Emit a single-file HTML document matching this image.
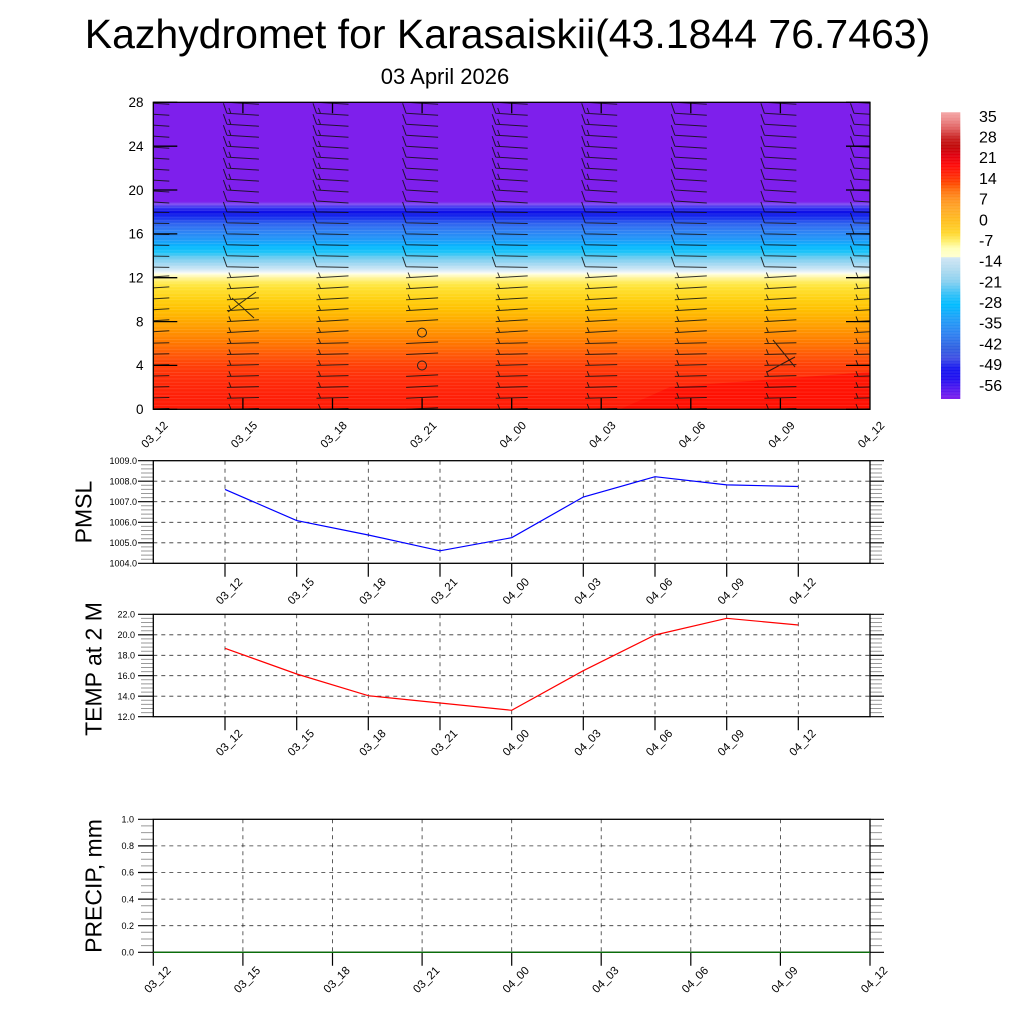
<!DOCTYPE html>
<html><head><meta charset="utf-8">
<style>
html,body{margin:0;padding:0;background:#fff;}
svg{display:block;font-family:"Liberation Sans",Arial,sans-serif;}
</style></head><body>
<svg xmlns="http://www.w3.org/2000/svg" width="1024" height="1024" viewBox="0 0 1024 1024">
<defs>
<linearGradient id="tg" x1="0" y1="102.3" x2="0" y2="409.3" gradientUnits="userSpaceOnUse">
<stop offset="0" stop-color="#7E1FEC"/>
<stop offset="0.323" stop-color="#7E1FEC"/>
<stop offset="0.332" stop-color="#7F4EF2"/>
<stop offset="0.343" stop-color="#3A3AF0"/>
<stop offset="0.357" stop-color="#0C0CE6"/>
<stop offset="0.375" stop-color="#1830EE"/>
<stop offset="0.393" stop-color="#2F60EE"/>
<stop offset="0.418" stop-color="#3080F4"/>
<stop offset="0.446" stop-color="#2298F8"/>
<stop offset="0.471" stop-color="#06B8FE"/>
<stop offset="0.489" stop-color="#20C4F8"/>
<stop offset="0.507" stop-color="#70CCF0"/>
<stop offset="0.529" stop-color="#A8DAF2"/>
<stop offset="0.546" stop-color="#D4EAF6"/>
<stop offset="0.555" stop-color="#F4F8F8"/>
<stop offset="0.559" stop-color="#FFFFE0"/>
<stop offset="0.571" stop-color="#FFF5A0"/>
<stop offset="0.589" stop-color="#FFEA50"/>
<stop offset="0.607" stop-color="#FFE030"/>
<stop offset="0.643" stop-color="#FFD010"/>
<stop offset="0.679" stop-color="#FFBE00"/>
<stop offset="0.714" stop-color="#FFA800"/>
<stop offset="0.75" stop-color="#FF9000"/>
<stop offset="0.786" stop-color="#FF7600"/>
<stop offset="0.821" stop-color="#FF5A08"/>
<stop offset="0.857" stop-color="#FF4008"/>
<stop offset="0.893" stop-color="#FF300A"/>
<stop offset="0.946" stop-color="#FF2208"/>
<stop offset="1" stop-color="#FF1A06"/>
</linearGradient>
<linearGradient id="cb" x1="0" y1="112.3" x2="0" y2="399" gradientUnits="userSpaceOnUse">
<stop offset="0" stop-color="#F4A4A4"/>
<stop offset="0.021" stop-color="#EE9090"/>
<stop offset="0.056" stop-color="#E06060"/>
<stop offset="0.091" stop-color="#C82020"/>
<stop offset="0.12" stop-color="#C00808"/>
<stop offset="0.149" stop-color="#E00010"/>
<stop offset="0.184" stop-color="#FF0A0A"/>
<stop offset="0.219" stop-color="#FF2808"/>
<stop offset="0.248" stop-color="#FF4800"/>
<stop offset="0.271" stop-color="#FF7010"/>
<stop offset="0.3" stop-color="#FF9020"/>
<stop offset="0.335" stop-color="#FFA828"/>
<stop offset="0.381" stop-color="#FFC020"/>
<stop offset="0.422" stop-color="#FFD830"/>
<stop offset="0.451" stop-color="#FFF070"/>
<stop offset="0.474" stop-color="#FFFFB8"/>
<stop offset="0.504" stop-color="#FFFFD0"/>
<stop offset="0.507" stop-color="#D0E6F4"/>
<stop offset="0.544" stop-color="#B4DCF0"/>
<stop offset="0.591" stop-color="#88D0F0"/>
<stop offset="0.637" stop-color="#30C0F8"/>
<stop offset="0.672" stop-color="#00BCFF"/>
<stop offset="0.719" stop-color="#20A0F8"/>
<stop offset="0.777" stop-color="#3080F0"/>
<stop offset="0.823" stop-color="#3060E0"/>
<stop offset="0.858" stop-color="#4050E4"/>
<stop offset="0.893" stop-color="#1818F0"/>
<stop offset="0.928" stop-color="#2010F0"/>
<stop offset="0.963" stop-color="#5018F0"/>
<stop offset="1" stop-color="#8020EC"/>
</linearGradient>
<clipPath id="cp"><rect x="153.3" y="102.3" width="716.7" height="307"/></clipPath>
</defs>
<rect width="1024" height="1024" fill="#fff"/>

<text x="507.5" y="48" font-size="41" text-anchor="middle">Kazhydromet for Karasaiskii(43.1844 76.7463)</text>
<text x="445" y="84" font-size="22" text-anchor="middle">03 April 2026</text>

<!-- contour panel -->
<rect x="153.3" y="102.3" width="716.7" height="307" fill="url(#tg)"/>
<polygon points="620,409.3 670,387 870,372 870,409.3" fill="#FF0C02" opacity="0.7"/>
<path id="wl" fill="none" stroke="#fff" stroke-width="0.6" stroke-opacity="0.15"/>
<g clip-path="url(#cp)">
<path id="barbs" fill="none" stroke="#111" stroke-width="1" stroke-opacity="0.85"/>
<circle cx="422" cy="332.6" r="4.5" fill="none" stroke="#222" stroke-width="1"/>
<circle cx="422" cy="365.5" r="4.5" fill="none" stroke="#222" stroke-width="1"/>
</g>
<rect x="153.3" y="102.3" width="716.7" height="307" fill="none" stroke="#000" stroke-width="1.3"/>
<path id="ctick" fill="none" stroke="#000" stroke-width="1.3"/>
<g font-size="13.5" text-anchor="end">
<text x="143.5" y="107.1">28</text>
<text x="143.5" y="151">24</text>
<text x="143.5" y="194.8">20</text>
<text x="143.5" y="238.7">16</text>
<text x="143.5" y="282.5">12</text>
<text x="143.5" y="326.4">8</text>
<text x="143.5" y="370.2">4</text>
<text x="143.5" y="414.1">0</text>
</g>
<g font-size="11.5" text-anchor="middle">
<text transform="translate(154.3,434.5) rotate(-45)" dy="0.35em">03_12</text>
<text transform="translate(243.9,434.5) rotate(-45)" dy="0.35em">03_15</text>
<text transform="translate(333.5,434.5) rotate(-45)" dy="0.35em">03_18</text>
<text transform="translate(423.1,434.5) rotate(-45)" dy="0.35em">03_21</text>
<text transform="translate(512.7,434.5) rotate(-45)" dy="0.35em">04_00</text>
<text transform="translate(602.2,434.5) rotate(-45)" dy="0.35em">04_03</text>
<text transform="translate(691.8,434.5) rotate(-45)" dy="0.35em">04_06</text>
<text transform="translate(781.4,434.5) rotate(-45)" dy="0.35em">04_09</text>
<text transform="translate(871,434.5) rotate(-45)" dy="0.35em">04_12</text>
</g>

<!-- colorbar -->
<rect x="941" y="112.3" width="19.3" height="286.7" fill="url(#cb)"/>
<path id="cbl" fill="none" stroke="#fff" stroke-width="0.6" stroke-opacity="0.2"/>
<g font-size="16">
<text x="979" y="121.8">35</text>
<text x="979" y="142.5">28</text>
<text x="979" y="163.2">21</text>
<text x="979" y="183.9">14</text>
<text x="979" y="204.6">7</text>
<text x="979" y="225.3">0</text>
<text x="979" y="245.9">-7</text>
<text x="979" y="266.6">-14</text>
<text x="979" y="287.3">-21</text>
<text x="979" y="308">-28</text>
<text x="979" y="328.7">-35</text>
<text x="979" y="349.4">-42</text>
<text x="979" y="370.1">-49</text>
<text x="979" y="390.8">-56</text>
</g>

<!-- PMSL panel -->
<path id="pgrid" fill="none" stroke="#333" stroke-width="0.8" stroke-dasharray="4 4"/>
<path id="pmin" fill="none" stroke="#999" stroke-width="1"/>
<path id="pmaj" fill="none" stroke="#000" stroke-width="1.2"/>
<rect x="153.3" y="460.7" width="716.7" height="102.6" fill="none" stroke="#000" stroke-width="1.3"/>
<polyline fill="none" stroke="#0000FF" stroke-width="1.2" points="225,489.4 296.7,520.6 368.3,535 440,550.8 511.7,537.7 583.3,497 655,476.7 726.7,484.9 798.3,486.5"/>
<g font-size="9" text-anchor="end">
<text x="137" y="463.9">1009.0</text>
<text x="137" y="484.4">1008.0</text>
<text x="137" y="504.9">1007.0</text>
<text x="137" y="525.4">1006.0</text>
<text x="137" y="546">1005.0</text>
<text x="137" y="566.5">1004.0</text>
</g>
<text transform="translate(83,512) rotate(-90)" font-size="23" text-anchor="middle" dy="0.365em">PMSL</text>
<g font-size="11.5" text-anchor="middle">
<text transform="translate(229,591) rotate(-45)" dy="0.35em">03_12</text>
<text transform="translate(300.7,591) rotate(-45)" dy="0.35em">03_15</text>
<text transform="translate(372.3,591) rotate(-45)" dy="0.35em">03_18</text>
<text transform="translate(444,591) rotate(-45)" dy="0.35em">03_21</text>
<text transform="translate(515.7,591) rotate(-45)" dy="0.35em">04_00</text>
<text transform="translate(587.3,591) rotate(-45)" dy="0.35em">04_03</text>
<text transform="translate(659,591) rotate(-45)" dy="0.35em">04_06</text>
<text transform="translate(730.7,591) rotate(-45)" dy="0.35em">04_09</text>
<text transform="translate(802.3,591) rotate(-45)" dy="0.35em">04_12</text>
</g>

<!-- TEMP panel -->
<path id="tgrid" fill="none" stroke="#333" stroke-width="0.8" stroke-dasharray="4 4"/>
<path id="tmin" fill="none" stroke="#999" stroke-width="1"/>
<path id="tmaj" fill="none" stroke="#000" stroke-width="1.2"/>
<rect x="153.3" y="614.3" width="716.7" height="102.4" fill="none" stroke="#000" stroke-width="1.3"/>
<polyline fill="none" stroke="#FF0000" stroke-width="1.2" points="225,648.3 296.7,674 368.3,695.7 440,703 511.7,710.3 583.3,670.7 655,635 726.7,618.3 798.3,625"/>
<g font-size="9" text-anchor="end">
<text x="135" y="617.5">22.0</text>
<text x="135" y="638">20.0</text>
<text x="135" y="658.5">18.0</text>
<text x="135" y="679">16.0</text>
<text x="135" y="699.4">14.0</text>
<text x="135" y="719.9">12.0</text>
</g>
<text transform="translate(93,669) rotate(-90)" font-size="23" text-anchor="middle" dy="0.365em">TEMP at 2 M</text>
<g font-size="11.5" text-anchor="middle">
<text transform="translate(229,742.5) rotate(-45)" dy="0.35em">03_12</text>
<text transform="translate(300.7,742.5) rotate(-45)" dy="0.35em">03_15</text>
<text transform="translate(372.3,742.5) rotate(-45)" dy="0.35em">03_18</text>
<text transform="translate(444,742.5) rotate(-45)" dy="0.35em">03_21</text>
<text transform="translate(515.7,742.5) rotate(-45)" dy="0.35em">04_00</text>
<text transform="translate(587.3,742.5) rotate(-45)" dy="0.35em">04_03</text>
<text transform="translate(659,742.5) rotate(-45)" dy="0.35em">04_06</text>
<text transform="translate(730.7,742.5) rotate(-45)" dy="0.35em">04_09</text>
<text transform="translate(802.3,742.5) rotate(-45)" dy="0.35em">04_12</text>
</g>

<!-- PRECIP panel -->
<path id="rgrid" fill="none" stroke="#333" stroke-width="0.8" stroke-dasharray="4 4"/>
<path id="rmin" fill="none" stroke="#999" stroke-width="1"/>
<path id="rmaj" fill="none" stroke="#000" stroke-width="1.2"/>
<rect x="153.3" y="819.3" width="716.7" height="133" fill="none" stroke="#000" stroke-width="1.3"/>
<path d="M153.3 952.3H870" stroke="#0A6E0A" stroke-width="1.3" fill="none"/>
<g font-size="9" text-anchor="end">
<text x="134" y="822.5">1.0</text>
<text x="134" y="849.1">0.8</text>
<text x="134" y="875.7">0.6</text>
<text x="134" y="902.3">0.4</text>
<text x="134" y="928.9">0.2</text>
<text x="134" y="955.5">0.0</text>
</g>
<text transform="translate(93,886) rotate(-90)" font-size="23" text-anchor="middle" dy="0.365em">PRECIP, mm</text>
<g font-size="11.5" text-anchor="middle">
<text transform="translate(157.3,979.5) rotate(-45)" dy="0.35em">03_12</text>
<text transform="translate(246.9,979.5) rotate(-45)" dy="0.35em">03_15</text>
<text transform="translate(336.5,979.5) rotate(-45)" dy="0.35em">03_18</text>
<text transform="translate(426.1,979.5) rotate(-45)" dy="0.35em">03_21</text>
<text transform="translate(515.7,979.5) rotate(-45)" dy="0.35em">04_00</text>
<text transform="translate(605.2,979.5) rotate(-45)" dy="0.35em">04_03</text>
<text transform="translate(694.8,979.5) rotate(-45)" dy="0.35em">04_06</text>
<text transform="translate(784.4,979.5) rotate(-45)" dy="0.35em">04_09</text>
<text transform="translate(874,979.5) rotate(-45)" dy="0.35em">04_12</text>
</g>
</svg>
<script>
(function(){
function P(id,d){var e=document.getElementById(id);if(e)e.setAttribute('d',d);}
function f(v){return v.toFixed(1);}
var cxs=[];for(var i=0;i<9;i++)cxs.push(153.3+i*89.5875);
// barbs
var d='';
for(var i=0;i<9;i++){var cx=cxs[i];
 for(var h=0;h<=28;h++){
  var y=409.3-h*10.964;
  if(i==3&&(h==7||h==4))continue;
  var t=h>=19?2:(h>=13?0.6:(h>=7?-1.8:-0.8));
  if(i==3&&h<7)t=-1.5;
  d+='M'+f(cx-16)+' '+f(y)+'L'+f(cx+16)+' '+f(y+t);
  if(h>=13){
    d+='M'+f(cx-16)+' '+f(y)+'l-3.5 -10';
    if(h>=20&&(i==1||i==2||i==4||i==5))d+='M'+f(cx-12)+' '+f(y+0.2)+'l-2 -5.5';
  } else if(!(i==3&&h<=8)){
    d+='M'+f(cx-12)+' '+f(y-0.2)+'l-2 -5';
  }
 }}
d+='M228 312L256 292M232 298L254 318M767 372L795 357M773 340L795 367';
P('barbs',d);
// contour ticks
var t='';
for(var k=0;k<=28;k+=4){var y=409.3-k*10.964;t+='M153.3 '+f(y)+'h24M870 '+f(y)+'h-24';}
for(var i=1;i<8;i++){var x=cxs[i];t+='M'+f(x)+' 409.3v-11M'+f(x)+' 102.3v11';}
P('ctick',t);
// faint contour lines
var w='';for(var y=204;y<409;y+=3.3)w+='M153.3 '+f(y)+'H870';P('wl',w);
var c='';for(var y=114;y<399;y+=3)c+='M941 '+f(y)+'H960.3';P('cbl',c);
// generic panel
function panel(p,top,bot,nmin,xt,gx,gy){
  var step=(bot-top)/5,maj='',mn='',g='';
  for(var j=0;j<=5;j++){var y=bot-j*step;maj+='M138 '+f(y)+'H153.3M870 '+f(y)+'H884';
    if(j<5){for(var m=1;m<=nmin;m++){var yy=y-m*step/(nmin+1);mn+='M141 '+f(yy)+'H153.3M870 '+f(yy)+'H882';}}
    if(j>=1&&j<=4)g+='M153.3 '+f(y)+'H870';}
  for(var i=0;i<gx.length;i++)g+='M'+f(gx[i])+' '+f(top)+'V'+f(bot);
  for(var i=0;i<xt.length;i++)maj+='M'+f(xt[i])+' '+f(bot)+'v13.5';
  P(p+'maj',maj);P(p+'min',mn);P(p+'grid',g);
}
var pt=[];for(var k=0;k<9;k++)pt.push(225+k*71.667);
panel('p',460.7,563.3,4,pt,pt);
panel('t',614.3,716.7,4,pt,pt);
panel('r',819.3,952.3,3,cxs,cxs.slice(1,8));
})();
</script>
</body></html>
